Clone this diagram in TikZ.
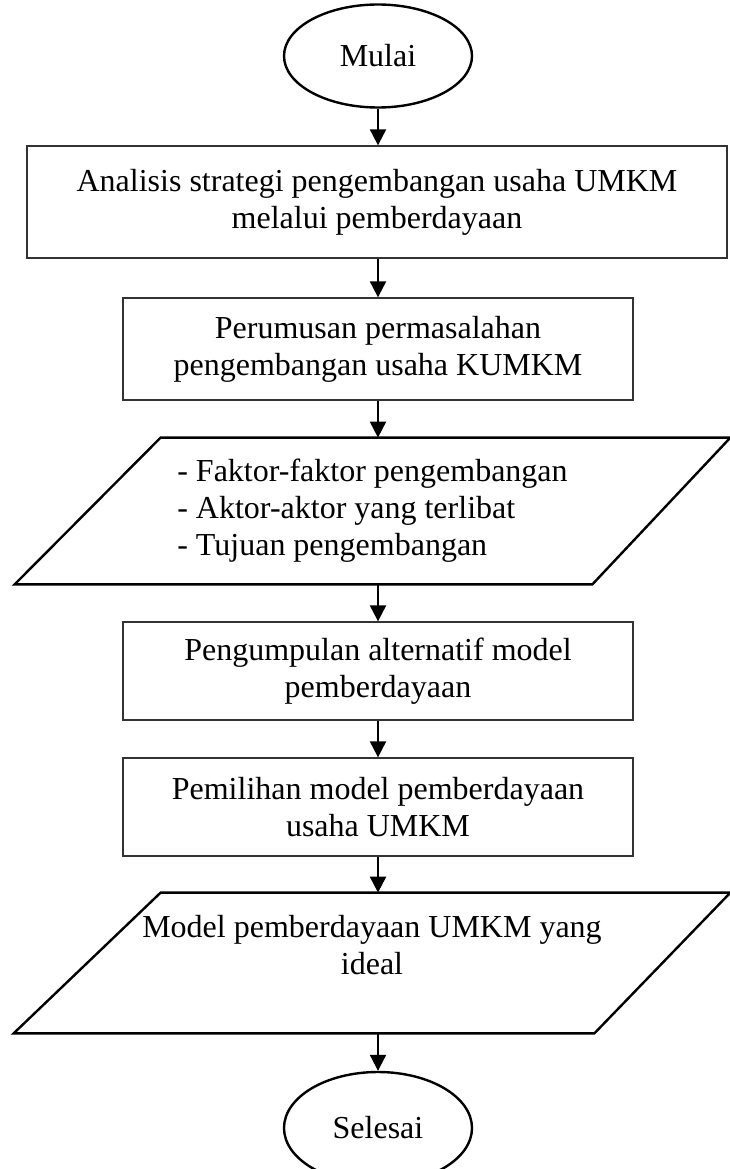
\documentclass[tikz,border=0pt]{standalone}
\usepackage{fontspec}
\setmainfont{Liberation Serif}
\usetikzlibrary{shapes,arrows.meta,positioning}
\tikzset{every picture/.style={line width=0.75pt}}
\tikzset{
  terminal/.style={ellipse,draw,line width=2.4pt,minimum width=188pt,minimum height=103pt},
  process/.style={rectangle,draw=black!80,line width=1.3pt,align=center},
  inout/.style={rectangle,inner sep=0pt},
  ioline/.style={line width=2.4pt,line join=miter},
  flow/.style={-{Triangle[length=16pt,width=16pt]},line width=2pt}
}

\begin{document}
\begin{tikzpicture}[x=1pt,y=-1pt,font=\fontsize{32}{37}\selectfont]
\useasboundingbox (0,0) rectangle (730,1169);
% start
\node[terminal] (mulai) at (378,56) {Mulai};
%
\node[process,minimum width=700pt,minimum height=112pt] (analisis) at (377,202)
  {Analisis strategi pengembangan usaha UMKM\\ melalui pemberdayaan};
\node[process,minimum width=510pt,minimum height=102pt] (rumusan) at (378,349)
  {Perumusan permasalahan\\ pengembangan usaha KUMKM};
% input / output
\node[inout,minimum width=715pt,minimum height=146pt,align=left] (faktor) at (372.5,511)
  {- Faktor-faktor pengembangan\\ - Aktor-aktor yang terlibat\\ - Tujuan pengembangan};
\draw[ioline] ([xshift=146pt]faktor.north west) -- (faktor.north east)
  -- ([xshift=-138pt]faktor.south east) -- (faktor.south west) -- cycle;
%
\node[process,minimum width=510pt,minimum height=98pt] (kumpul) at (378,671)
  {Pengumpulan alternatif model\\ pemberdayaan};
\node[process,minimum width=510pt,minimum height=98pt] (pilih) at (378,807)
  {Pemilihan model pemberdayaan\\ usaha UMKM};
%
\node[inout,minimum width=716pt,minimum height=140pt,align=center] (model) at (372,963)
  {Model pemberdayaan UMKM yang\\ ideal\\ \mbox{}};
\draw[ioline] ([xshift=147pt]model.north west) -- (model.north east)
  -- ([xshift=-136pt]model.south east) -- (model.south west) -- cycle;
% end
\node[terminal,minimum height=112pt] (selesai) at (378,1128) {Selesai};
%
\draw[flow] (mulai.south) -- (mulai.south |- analisis.north);
\draw[flow] (rumusan.north |- analisis.south) -- (rumusan.north);
\draw[flow] (rumusan.south) -- (rumusan.south |- faktor.north);
\draw[flow] (kumpul.north |- faktor.south) -- (kumpul.north);
\draw[flow] (kumpul.south) -- (pilih.north);
\draw[flow] (pilih.south) -- (pilih.south |- model.north);
\draw[flow] (selesai.north |- model.south) -- (selesai.north);
\end{tikzpicture}
\end{document}
